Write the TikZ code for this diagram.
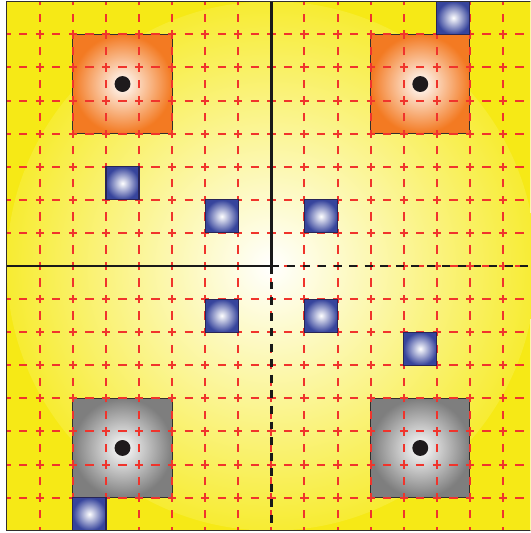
\documentclass[tikz,border=0pt]{standalone}
\definecolor{bgyellow}{RGB}{246,233,22}
\definecolor{sqorange}{RGB}{243,122,34}
\definecolor{sqgrey}{RGB}{126,126,126}
\definecolor{sqblue}{RGB}{54,68,156}
\definecolor{gridred}{RGB}{240,52,44}
\definecolor{dotblack}{RGB}{30,26,28}
\definecolor{edgedark}{RGB}{50,46,44}
\begin{document}
\begin{tikzpicture}[x=1cm,y=1cm,
  bigsq/.style={draw=edgedark, line width=0.9pt, minimum size=3cm, inner sep=0pt, outer sep=0pt, shading=radial, inner color=white},
  orangesq/.style={bigsq, outer color=sqorange},
  greysq/.style={bigsq, outer color=sqgrey},
  bluesq/.style={draw=edgedark!80!blue, line width=1pt, minimum size=1cm, inner sep=0pt, outer sep=0pt, shading=radial, inner color=white, outer color=sqblue},
  dot/.style={circle, fill=dotblack, minimum size=0.48cm, inner sep=0pt},
  gridline/.style={gridred, line width=1.7pt, dash pattern=on 0.25cm off 0.25cm, dash phase=0.125cm},
  axis/.style={black!90, line width=2.1pt},
  axisdash/.style={axis, dash pattern=on 0.24cm off 0.23cm},
  frame/.style={draw=edgedark, line width=0.9pt}]
\useasboundingbox (-0.203,-0.07) rectangle (15.83,16.04);
\clip (-0.203,-0.07) rectangle (15.83,16.04);
% background
\fill[bgyellow] (0,0) rectangle (16,16);
\shade[inner color=white, outer color=bgyellow!88!white] (8,8) circle (8);
% big squares
\node[orangesq] (o1) at (3.5,13.5) {};
\node[orangesq] (o2) at (12.5,13.5) {};
\node[greysq] (g1) at (3.5,2.5) {};
\node[greysq] (g2) at (12.5,2.5) {};
% grid
\foreach \i in {1,...,15} {
  \draw[gridline] (\i,0) -- (\i,16);
  \draw[gridline] (0,\i) -- (16,\i);
}
% small blue squares
\node[bluesq] (b1) at (13.5,15.5) {};
\node[bluesq] (b2) at (3.5,10.5) {};
\node[bluesq] (b3) at (6.5,9.5) {};
\node[bluesq] (b4) at (9.5,9.5) {};
\node[bluesq] (b5) at (6.5,6.5) {};
\node[bluesq] (b6) at (9.5,6.5) {};
\node[bluesq] (b7) at (12.5,5.5) {};
\node[bluesq] (b8) at (2.5,0.5) {};
% axes
\coordinate (c) at (8,8);
\coordinate (n) at (8,16);
\coordinate (w) at (0,8);
\coordinate (e) at (16,8);
\coordinate (s) at (8,0);
\draw[axis] (c) -- (n);
\draw[axis] (w) -- (c);
\draw[axisdash] (c) -- (e);
\draw[axisdash] (c) -- (s);
% dots
\node[dot] (d1) at (o1.center) {};
\node[dot] (d2) at (o2.center) {};
\node[dot] (d3) at (g1.center) {};
\node[dot] (d4) at (g2.center) {};
% frame
\draw[frame] (0,0) rectangle (16,16);
\end{tikzpicture}
\end{document}
